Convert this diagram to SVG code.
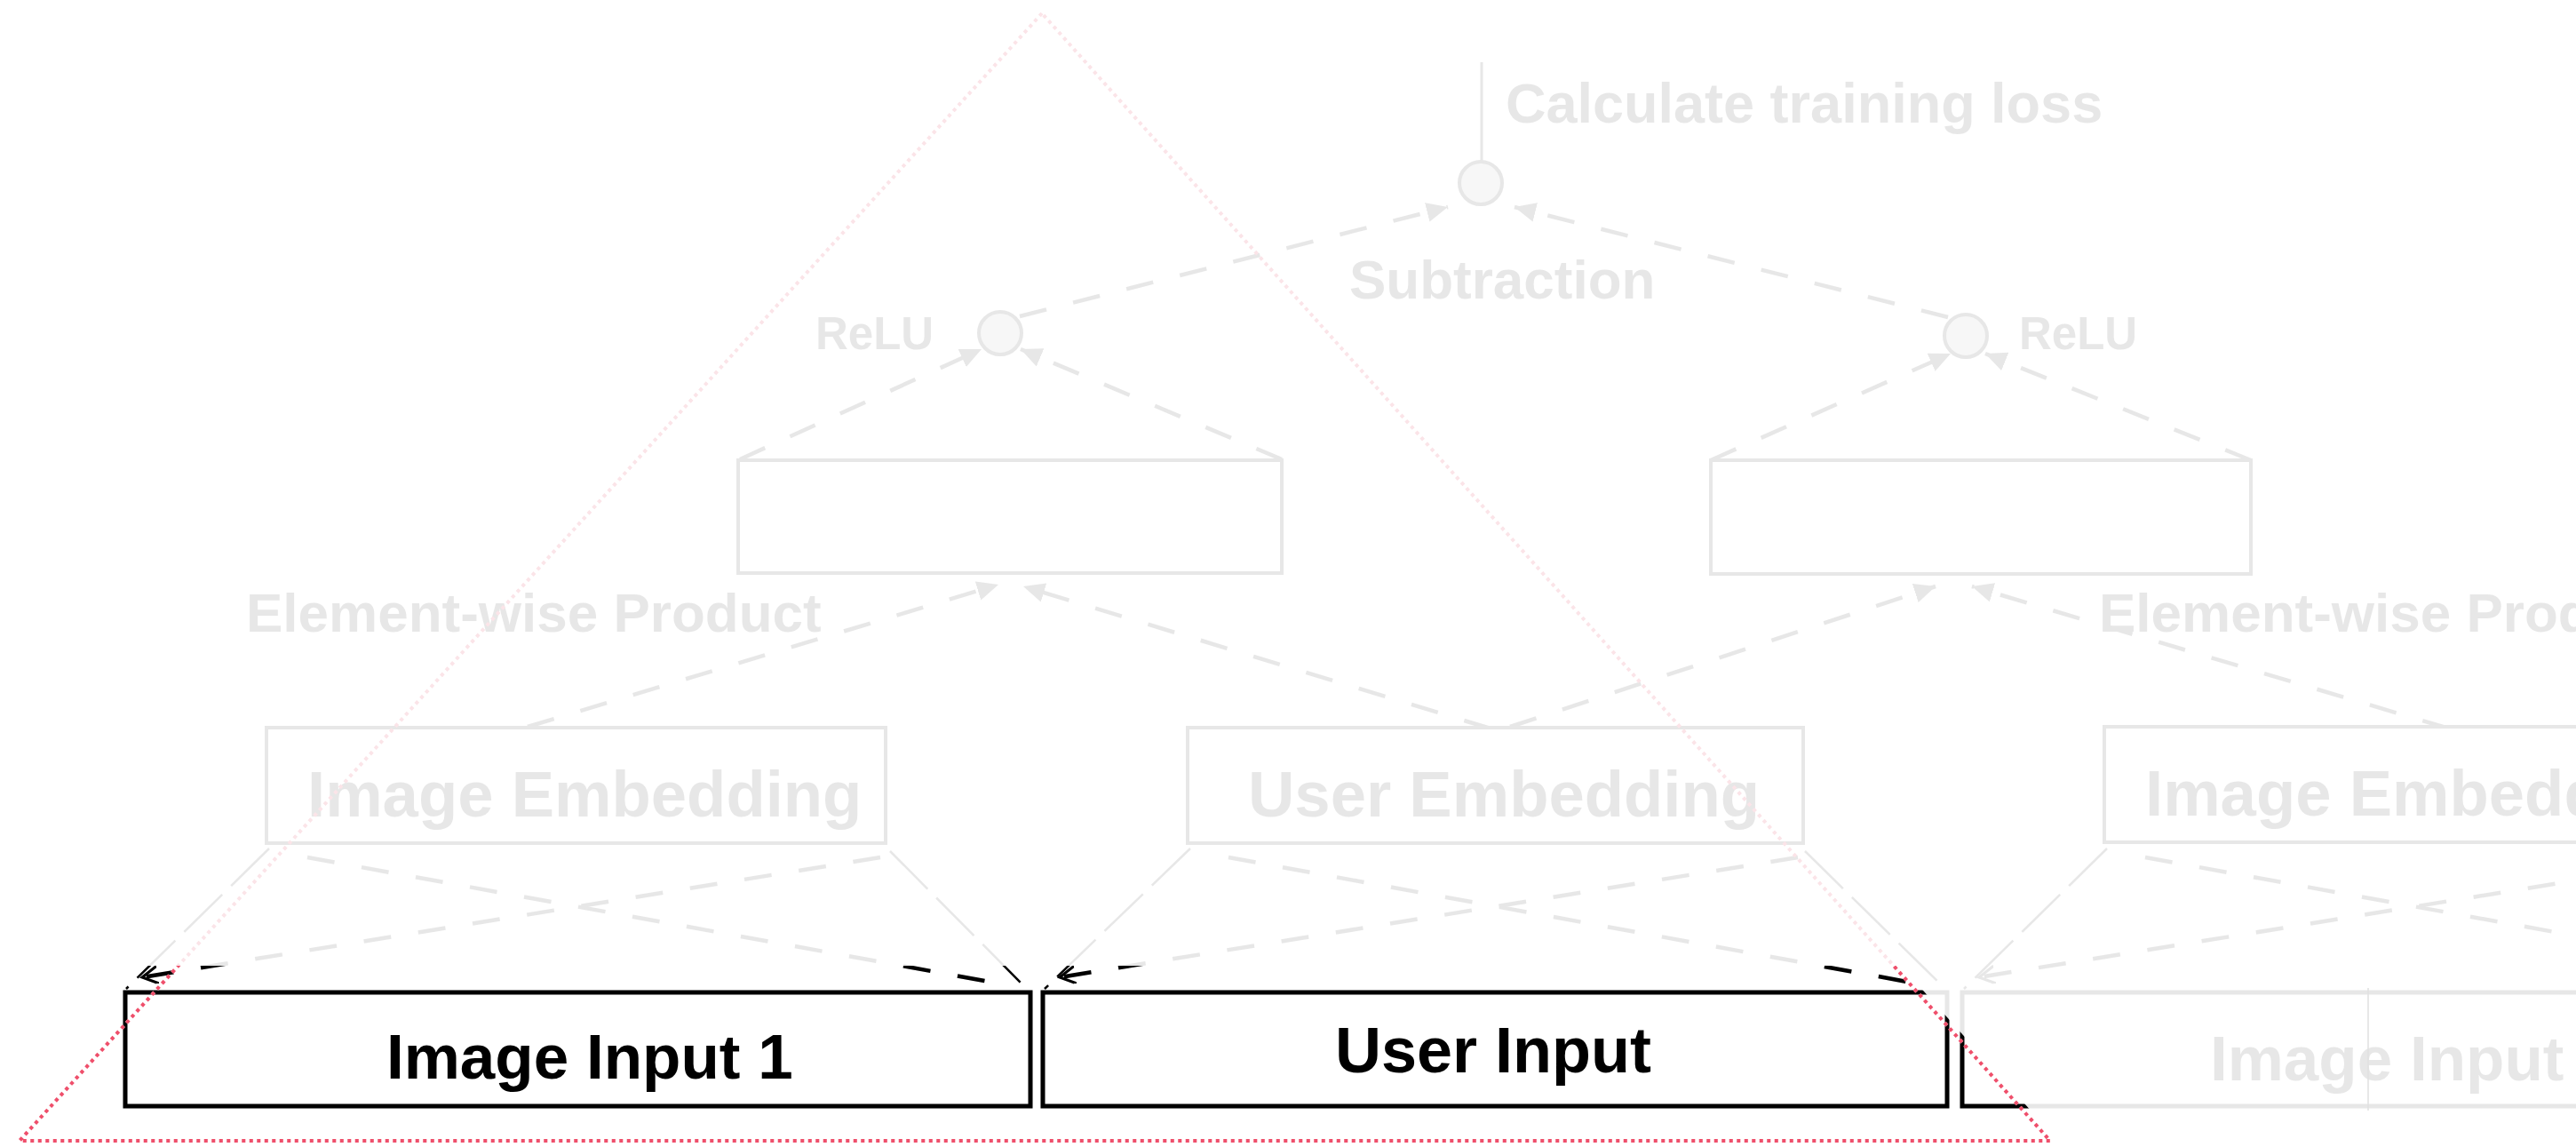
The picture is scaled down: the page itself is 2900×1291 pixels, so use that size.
<svg xmlns="http://www.w3.org/2000/svg" xmlns:xlink="http://www.w3.org/1999/xlink" width="2900" height="1291" viewBox="0 0 2900 1291">
  <style>
    .box { fill: #fff; stroke: #000; stroke-width: 4; }
    .inbox { fill: #fff; stroke: #000; stroke-width: 5; }
    .op { fill: #aaa; stroke: #000; stroke-width: 4; }
    .lbl { font-family: "Liberation Sans", Arial, Helvetica, sans-serif; font-weight: bold; fill: #000; }
    .dash { fill: none; stroke: #000; stroke-width: 4.5; stroke-dasharray: 31 31; }
    .thin { fill: none; stroke: #000; stroke-width: 2.5; stroke-dasharray: 60 14; }
    .solid { fill: none; stroke: #000; stroke-width: 3; }
    .spot { fill: none; stroke-width: 4; stroke-dasharray: 4 4.5; }
  </style>
  <defs>
    <marker id="arrow" markerUnits="userSpaceOnUse" markerWidth="26" markerHeight="24" refX="24" refY="11" orient="auto">
      <path d="M0,0 L24,11 L0,22 z" fill="#000"/>
    </marker>
    <marker id="chev" markerUnits="userSpaceOnUse" markerWidth="26" markerHeight="26" refX="18" refY="10" orient="auto">
      <path d="M0,0 L18,10 L0,20" fill="none" stroke="#000" stroke-width="3"/>
    </marker>
    <!-- lower band inside the spotlight wedge, shown at full strength -->
    <clipPath id="focus">
      <polygon points="0,1087 2140,1087 2323,1291 0,1291"/>
    </clipPath>
    <clipPath id="lowband">
      <rect x="0" y="1087" width="2900" height="204"/>
    </clipPath>
  </defs>

  <rect width="2900" height="1291" fill="#fff"/>

  <!-- dimmed full network -->
  <g opacity="0.09">
    <g id="network">
      <g id="connectors">
        <line class="solid" x1="1668" y1="70" x2="1668" y2="182"/>
        <line class="dash" x1="1148" y1="356" x2="1630" y2="233" marker-end="url(#arrow)"/>
        <line class="dash" x1="2193" y1="357" x2="1705" y2="233" marker-end="url(#arrow)"/>
        <line class="dash" x1="833" y1="517" x2="1105" y2="393" marker-end="url(#arrow)"/>
        <line class="dash" x1="1443" y1="517" x2="1149" y2="393" marker-end="url(#arrow)"/>
        <line class="dash" x1="1926" y1="518" x2="2196" y2="398" marker-end="url(#arrow)"/>
        <line class="dash" x1="2534" y1="518" x2="2235" y2="398" marker-end="url(#arrow)"/>
        <line class="dash" x1="594" y1="818" x2="1124" y2="658" marker-end="url(#arrow)"/>
        <line class="dash" x1="1678" y1="820" x2="1152" y2="660" marker-end="url(#arrow)"/>
        <line class="dash" x1="1700" y1="818" x2="2179" y2="660" marker-end="url(#arrow)"/>
        <line class="dash" x1="2757" y1="820" x2="2220" y2="660" marker-end="url(#arrow)"/>
        <!-- inputs to embeddings -->
        <line class="thin" x1="303" y1="955" x2="142" y2="1113"/>
        <line class="thin" x1="1002" y1="958" x2="1156" y2="1113"/>
        <line class="dash" x1="346" y1="965" x2="1125" y2="1107"/>
        <line class="dash" x1="991" y1="965" x2="160" y2="1100" marker-end="url(#chev)"/>

        <line class="thin" x1="1340" y1="955" x2="1176" y2="1113"/>
        <line class="thin" x1="2032" y1="958" x2="2190" y2="1113"/>
        <line class="dash" x1="1383" y1="965" x2="2158" y2="1107"/>
        <line class="dash" x1="2024" y1="965" x2="1193" y2="1100" marker-end="url(#chev)"/>

        <line class="thin" x1="2372" y1="955" x2="2211" y2="1113"/>
        <line class="dash" x1="2415" y1="965" x2="3194" y2="1107"/>
        <line class="dash" x1="3060" y1="965" x2="2228" y2="1100" marker-end="url(#chev)"/>
      </g>

      <g id="loss-label">
        <text class="lbl" x="1695" y="138" font-size="63">Calculate training loss</text>
      </g>
      <g id="subtraction">
        <circle class="op" cx="1667" cy="206" r="24"/>
        <text class="lbl" x="1519" y="336" font-size="62">Subtraction</text>
      </g>
      <g id="relu-left">
        <circle class="op" cx="1126" cy="375" r="24"/>
        <text class="lbl" x="918" y="393" font-size="51">ReLU</text>
      </g>
      <g id="relu-right">
        <circle class="op" cx="2213" cy="378" r="24"/>
        <text class="lbl" x="2273" y="393" font-size="51">ReLU</text>
      </g>
      <g id="product-left">
        <rect class="box" x="831" y="518" width="612" height="127"/>
        <text class="lbl" x="277" y="711" font-size="62">Element-wise Product</text>
      </g>
      <g id="product-right">
        <rect class="box" x="1926" y="518" width="608" height="128"/>
        <text class="lbl" x="2363" y="711" font-size="62">Element-wise Product</text>
      </g>
      <g id="image-embedding-1">
        <rect class="box" x="300" y="819" width="697" height="130"/>
        <text class="lbl" x="346" y="919" font-size="72.5">Image Embedding</text>
      </g>
      <g id="user-embedding">
        <rect class="box" x="1337" y="819" width="693" height="130"/>
        <text class="lbl" x="1405" y="919" font-size="72.5">User Embedding</text>
      </g>
      <g id="image-embedding-2">
        <rect class="box" x="2369" y="818" width="697" height="130"/>
        <text class="lbl" x="2415" y="918" font-size="72.5">Image Embedding</text>
      </g>
      <g id="image-input-1">
        <rect class="inbox" x="141" y="1117" width="1019" height="128"/>
        <text class="lbl" x="435" y="1214" font-size="71">Image Input 1</text>
      </g>
      <g id="user-input">
        <rect class="inbox" x="1174" y="1117" width="1018" height="128"/>
        <text class="lbl" x="1503" y="1207" font-size="72">User Input</text>
      </g>
      <g id="image-input-2">
        <rect class="inbox" x="2209" y="1117" width="1019" height="128"/>
        <text class="lbl" x="2488" y="1216" font-size="71">Image Input</text>
      </g>
    </g>
  </g>

  <!-- focused part of the network -->
  <use xlink:href="#network" clip-path="url(#focus)"/>

  <!-- seam inside the third input box -->
  <line x1="2666" y1="1112" x2="2666" y2="1250" stroke="#e0e0e0" stroke-width="1.5"/>

  <!-- spotlight wedge -->
  <g id="spotlight">
    <polygon class="spot" points="1173,15 22,1284 2308,1284" stroke="#fbe4e8"/>
    <polygon class="spot" points="1173,15 22,1284 2308,1284" stroke="#ef4f6b" clip-path="url(#lowband)"/>
  </g>
</svg>
